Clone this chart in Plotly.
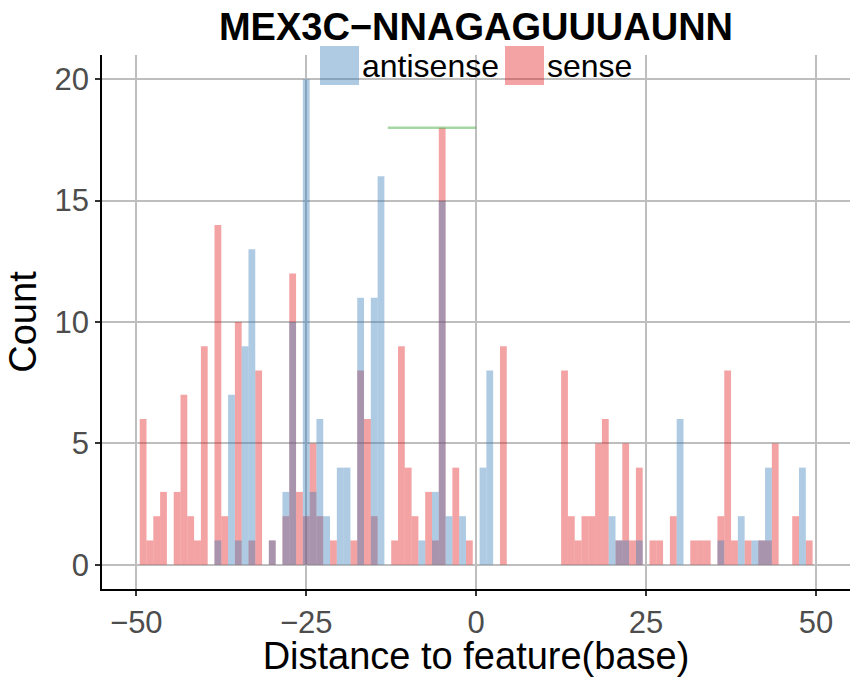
import plotly.graph_objects as go

# histogram counts per 1-base bin (bin centre -> count)
title_text = "MEX3C−NNAGAGUUUAUNN"

sense_pos = [-49, -48, -47, -46, -44, -43, -42, -41, -40, -38, -37, -35, -33, -32, -30,
             -28, -27, -26, -25, -24, -23, -21, -18, -17, -16, -15, -12, -11, -10, -9,
             -7, -6, -5, -3, -1, 4, 13, 14, 15, 16, 17, 18, 19, 21, 22, 23, 24, 26, 27,
             29, 32, 33, 34, 36, 37, 38, 40, 42, 43, 44, 47, 49]
sense_count = [6, 1, 2, 3, 3, 7, 2, 1, 9, 14, 2, 10, 1, 8, 1,
               2, 12, 3, 2, 5, 2, 1, 1, 8, 6, 2, 1, 9, 4, 2,
               3, 1, 18, 4, 1, 9, 8, 2, 1, 2, 2, 5, 6, 1, 5, 1, 4, 1, 1,
               2, 1, 1, 1, 2, 8, 1, 1, 1, 1, 5, 2, 1]

antisense_pos = [-38, -36, -35, -34, -33, -30, -28, -27, -25, -24, -23, -22, -20, -19,
                 -17, -15, -14, -8, -6, -5, -4, -2, 1, 2, 20, 21, 22, 24, 30, 36, 39,
                 41, 42, 43, 48]
antisense_count = [1, 7, 1, 9, 13, 1, 3, 10, 20, 3, 6, 2, 4, 4,
                   11, 11, 16, 1, 3, 15, 2, 2, 4, 8, 2, 1, 1, 1, 6, 1, 2,
                   1, 1, 4, 4]

# motif segment
motif_x = [-13, 0]
motif_y = [18, 18]

x_ticks = [-50, -25, 0, 25, 50]
y_ticks = [0, 5, 10, 15, 20]

W, H = 864, 677
M = dict(l=102, r=14, t=55, b=88)
FONT = "Liberation Sans, Arial, sans-serif"

def px(xp):
    return (xp - M['l']) / (W - M['l'] - M['r'])

def py(yp):
    return (H - M['b'] - yp) / (H - M['t'] - M['b'])

fig = go.Figure()

# sense first so antisense sits on top (gives the purple overlap)
fig.add_trace(go.Bar(x=sense_pos, y=sense_count, width=1, name="sense",
                     marker=dict(color="#E41A1C", opacity=0.4, line_width=0),
                     showlegend=False))
fig.add_trace(go.Bar(x=antisense_pos, y=antisense_count, width=1, name="antisense",
                     marker=dict(color="#377EB8", opacity=0.4, line_width=0),
                     showlegend=False))
fig.add_trace(go.Scatter(x=motif_x, y=motif_y, mode="lines",
                         line=dict(color="rgba(77,175,74,0.5)", width=2.5),
                         showlegend=False, hoverinfo="skip"))

# -- hand made legend (ggplot style big keys)
keys = [("antisense", "#377EB8", 320, 359, 360), ("sense", "#E41A1C", 505, 544, 545)]
for name, col, x0, x1, xt in keys:
    fig.add_shape(type="rect", xref="paper", yref="paper",
                  x0=px(x0), x1=px(x1), y0=py(85), y1=py(46),
                  fillcolor=col, opacity=0.4, line_width=0)
    fig.add_annotation(text=name, xref="paper", yref="paper", x=px(xt), y=py(66),
                       xanchor="left", yanchor="middle", showarrow=False,
                       font=dict(size=32, color="black", family=FONT))

axis_common = dict(showline=True, linecolor="black", linewidth=1.5,
                   ticks="outside", ticklen=5, tickwidth=1.5, tickcolor="#333333",
                   showgrid=True, gridcolor="#BEBEBE", gridwidth=2, zeroline=False,
                   automargin=False,
                   tickfont=dict(size=31, color="#4D4D4D", family=FONT))

fig.update_layout(
    width=W, height=H,
    margin=M,
    barmode="overlay",
    plot_bgcolor="white", paper_bgcolor="white",
    font=dict(family=FONT),
    title=dict(text="<b>" + title_text + "</b>", x=0.5, xref="paper",
               y=1 - 27 / H, yref="container", yanchor="middle", xanchor="center",
               automargin=False,
               font=dict(size=38, color="black", family=FONT)),
    xaxis=dict(range=[-55.05, 55.0], tickvals=x_ticks,
               title=dict(text="Distance to feature(base)", standoff=6,
                          font=dict(size=38, color="black", family=FONT)),
               **axis_common),
    yaxis=dict(range=[-1, 21], tickvals=y_ticks,
               title=dict(text="Count", standoff=6,
                          font=dict(size=38, color="black", family=FONT)),
               **axis_common),
)

# page body has a default 8px margin, drop it so the figure fills the window
fig.write_html("out.html", config={"displayModeBar": False},
               post_script="document.body.style.margin='0';document.body.style.overflow='hidden';")
